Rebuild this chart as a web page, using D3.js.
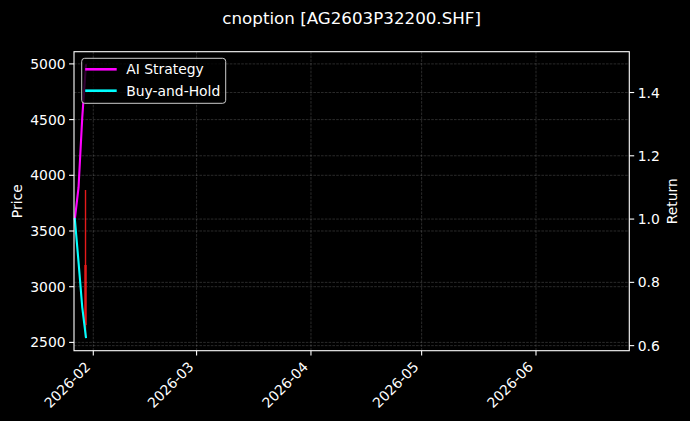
<!DOCTYPE html>
<html>
<head>
<meta charset="utf-8">
<script src="https://cdn.jsdelivr.net/npm/d3@7"></script>
<style>
  body { margin: 0; background: #000; }
  svg { display: block; font-family: "DejaVu Sans", sans-serif; }
</style>
</head>
<body>
<svg id="chart" width="690" height="421"></svg>
<script>
// Chart data
const dates = ["2026-01-27", "2026-01-28", "2026-01-29", "2026-01-30"];
const aiStrategy = [1.0, 1.10, 1.32, 1.486];
const buyAndHold = [1.0, 0.864, 0.722, 0.627];

// one visible candle (price axis)
const candleDates = ["2026-01-30"];
const candleOpen = [3195];
const candleHigh = [3868];
const candleLow = [2548];
const candleClose = [2656];

const priceTicks = [2500, 3000, 3500, 4000, 4500, 5000];
const returnTicks = [0.6, 0.8, 1.0, 1.2, 1.4];
const legendLabels = ["AI Strategy", "Buy-and-Hold"];

const parseDate = d3.timeParse("%Y-%m-%d");

const svg = d3.select("#chart");
const width = 690, height = 421;
const plotLeft = 74, plotRight = 629.3, plotTop = 51.7, plotBottom = 350.7;

svg.append("rect").attr("width", width).attr("height", height).attr("fill", "#000");

// Scales
const x = d3.scaleTime()
    .domain([new Date(2026, 0, 26, 18, 30), new Date(2026, 5, 26, 7, 0)])
    .range([plotLeft, plotRight]);
const yPrice = d3.scaleLinear().domain([2425.5, 5109.5]).range([plotBottom, plotTop]);
const yRet = d3.scaleLinear().domain([0.584, 1.529]).range([plotBottom, plotTop]);

const monthTicks = x.ticks(d3.timeMonth.every(1));

// dashed grid group
function gridGroup() {
    return svg.append("g")
        .attr("stroke", "#fff")
        .attr("stroke-opacity", 0.28)
        .attr("stroke-width", 0.6)
        .attr("stroke-dasharray", "2.6,1.2");
}

// Grid lines (x and price axis)
const grid = gridGroup();
grid.selectAll(".gx").data(monthTicks).enter().append("line")
    .attr("x1", d => x(d)).attr("x2", d => x(d))
    .attr("y1", plotTop).attr("y2", plotBottom);
grid.selectAll(".gp").data(priceTicks).enter().append("line")
    .attr("x1", plotLeft).attr("x2", plotRight)
    .attr("y1", d => yPrice(d)).attr("y2", d => yPrice(d));

// Candles
const candles = candleDates.map((d, i) => ({
    date: parseDate(d), o: candleOpen[i], h: candleHigh[i], l: candleLow[i], c: candleClose[i]
}));
const candleG = svg.append("g");
candles.forEach(d => {
    const col = d.c >= d.o ? "#00c000" : "#e41a1a";
    const cx = x(d.date) - 0.4;
    candleG.append("line")
        .attr("x1", cx).attr("x2", cx)
        .attr("y1", yPrice(d.h)).attr("y2", yPrice(d.l))
        .attr("stroke", col).attr("stroke-width", 1.4);
    candleG.append("rect")
        .attr("x", cx - 1.2).attr("width", 2.4)
        .attr("y", yPrice(Math.max(d.o, d.c)))
        .attr("height", Math.abs(yPrice(d.o) - yPrice(d.c)))
        .attr("fill", col);
});

// Return grid (twin axis) drawn over the price layer
const grid2 = gridGroup();
grid2.selectAll(".gr").data(returnTicks).enter().append("line")
    .attr("x1", plotLeft).attr("x2", plotRight)
    .attr("y1", d => yRet(d)).attr("y2", d => yRet(d));

// Return lines
const line = d3.line().x(d => x(d.date)).y(d => yRet(d.v));
const series = [
    { name: legendLabels[0], color: "#ff00ff", values: aiStrategy },
    { name: legendLabels[1], color: "#00ffff", values: buyAndHold }
];
series.forEach(s => {
    const pts = dates.map((d, i) => ({ date: parseDate(d), v: s.values[i] }));
    svg.append("path")
        .datum(pts)
        .attr("d", line)
        .attr("fill", "none")
        .attr("stroke", s.color)
        .attr("stroke-width", 2.1)
        .attr("stroke-linejoin", "round")
        .attr("stroke-linecap", "square");
});

// Frame
svg.append("rect")
    .attr("x", plotLeft).attr("y", plotTop)
    .attr("width", plotRight - plotLeft).attr("height", plotBottom - plotTop)
    .attr("fill", "none").attr("stroke", "#fff").attr("stroke-width", 1.1);

// Axes
const fontSize = 13.9;
const axisG = svg.append("g").attr("fill", "#fff").attr("font-size", fontSize);

// x axis
monthTicks.forEach(d => {
    const tx = x(d);
    axisG.append("line").attr("x1", tx).attr("x2", tx)
        .attr("y1", plotBottom).attr("y2", plotBottom + 4.9)
        .attr("stroke", "#fff").attr("stroke-width", 1.1);
    axisG.append("text")
        .attr("transform", `translate(${tx - 2},${plotBottom + 17}) rotate(-45)`)
        .attr("text-anchor", "end")
        .text(d3.timeFormat("%Y-%m")(d));
});

// left price axis
priceTicks.forEach(d => {
    const ty = yPrice(d);
    axisG.append("line").attr("x1", plotLeft - 4.9).attr("x2", plotLeft)
        .attr("y1", ty).attr("y2", ty)
        .attr("stroke", "#fff").attr("stroke-width", 1.1);
    axisG.append("text")
        .attr("x", plotLeft - 8.4).attr("y", ty).attr("dy", "0.36em")
        .attr("text-anchor", "end")
        .text(d);
});

// right return axis
returnTicks.forEach(d => {
    const ty = yRet(d);
    axisG.append("line").attr("x1", plotRight).attr("x2", plotRight + 4.9)
        .attr("y1", ty).attr("y2", ty)
        .attr("stroke", "#fff").attr("stroke-width", 1.1);
    axisG.append("text")
        .attr("x", plotRight + 8.4).attr("y", ty).attr("dy", "0.36em")
        .text(d3.format(".1f")(d));
});

// axis labels
axisG.append("text")
    .attr("transform", `translate(21.5,${(plotTop + plotBottom) / 2}) rotate(-90)`)
    .attr("text-anchor", "middle")
    .text("Price");
axisG.append("text")
    .attr("transform", `translate(677,${(plotTop + plotBottom) / 2}) rotate(-90)`)
    .attr("text-anchor", "middle")
    .text("Return");

// Title
svg.append("text")
    .attr("x", (plotLeft + plotRight) / 2).attr("y", 24)
    .attr("text-anchor", "middle")
    .attr("fill", "#fff")
    .attr("font-size", 16.7)
    .text("cnoption [AG2603P32200.SHF]");

// Legend
const legend = svg.append("g").attr("transform", "translate(81.7,58.3)");
legend.append("rect")
    .attr("width", 144).attr("height", 45).attr("rx", 3)
    .attr("fill", "#000").attr("fill-opacity", 0.8)
    .attr("stroke", "#cccccc").attr("stroke-width", 1);
series.forEach((s, i) => {
    const ly = 11 + i * 21.4;
    legend.append("line")
        .attr("x1", 3.5).attr("x2", 35).attr("y1", ly).attr("y2", ly)
        .attr("stroke", s.color).attr("stroke-width", 2.6);
    legend.append("text")
        .attr("x", 44.5).attr("y", ly).attr("dy", "0.36em")
        .attr("fill", "#fff").attr("font-size", fontSize)
        .text(s.name);
});
</script>
</body>
</html>
